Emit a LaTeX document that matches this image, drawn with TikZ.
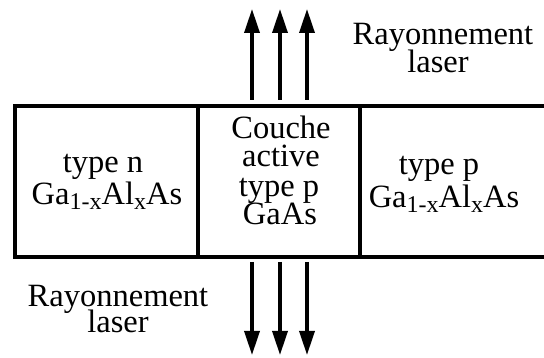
\documentclass[tikz,border=0pt]{standalone}
\usepackage{fontspec}
\setmainfont{Liberation Serif}
\usetikzlibrary{arrows.meta}
\newcommand{\lowsub}[1]{\raisebox{-5pt}{\fontsize{24}{24}\selectfont #1}}
\tikzset{
  x=1pt, y=1pt,
  lbl/.style={inner sep=0pt, anchor=base, font=\fontsize{32.5}{32.5}\selectfont},
  wall/.style={line width=4pt},
  ray/.style={line width=3.4pt, -{Triangle[width=15pt,length=24pt]}}
}
\begin{document}
\begin{tikzpicture}
\useasboundingbox (0,0) rectangle (544,358);
% layer structure
\coordinate (tl) at (15,252);
\coordinate (bl) at (15,101);
\coordinate (tr) at (544,252);
\coordinate (br) at (544,101);
\coordinate (d1t) at (198,252);
\coordinate (d1b) at (198,101);
\coordinate (d2t) at (360,252);
\coordinate (d2b) at (360,101);
\draw[wall] (tr) -- (tl) -- (bl) -- (br);
\draw[wall] (d1t) -- (d1b);
\draw[wall] (d2t) -- (d2b);
% texts
\node[lbl] (n1) at (103,185) {type n};
\node[lbl] (n2) at (107,153) {Ga\lowsub{1-x}Al\lowsub{x}As};
\node[lbl] (a1) at (281,219) {Couche};
\node[lbl] (a2) at (281,191) {active};
\node[lbl] (a3) at (279,161) {type p};
\node[lbl] (a4) at (280,133) {GaAs};
\node[lbl] (p1) at (439,183) {type p};
\node[lbl] (p2) at (444,150) {Ga\lowsub{1-x}Al\lowsub{x}As};
\node[lbl] (r1) at (443,313) {Rayonnement};
\node[lbl] (r2) at (438,285) {laser};
\node[lbl] (s1) at (118,51) {Rayonnement};
\node[lbl] (s2) at (118,25) {laser};
% laser rays
\coordinate (u1a) at (252,258); \coordinate (u1b) at (252,349);
\coordinate (u2a) at (280,258); \coordinate (u2b) at (280,349);
\coordinate (u3a) at (307,258); \coordinate (u3b) at (307,349);
\coordinate (v1a) at (252,96); \coordinate (v1b) at (252,3);
\coordinate (v2a) at (280,96); \coordinate (v2b) at (280,3);
\coordinate (v3a) at (307,96); \coordinate (v3b) at (307,3);
\draw[ray] (u1a) -- (u1b);
\draw[ray] (u2a) -- (u2b);
\draw[ray] (u3a) -- (u3b);
\draw[ray] (v1a) -- (v1b);
\draw[ray] (v2a) -- (v2b);
\draw[ray] (v3a) -- (v3b);
\end{tikzpicture}
\end{document}
